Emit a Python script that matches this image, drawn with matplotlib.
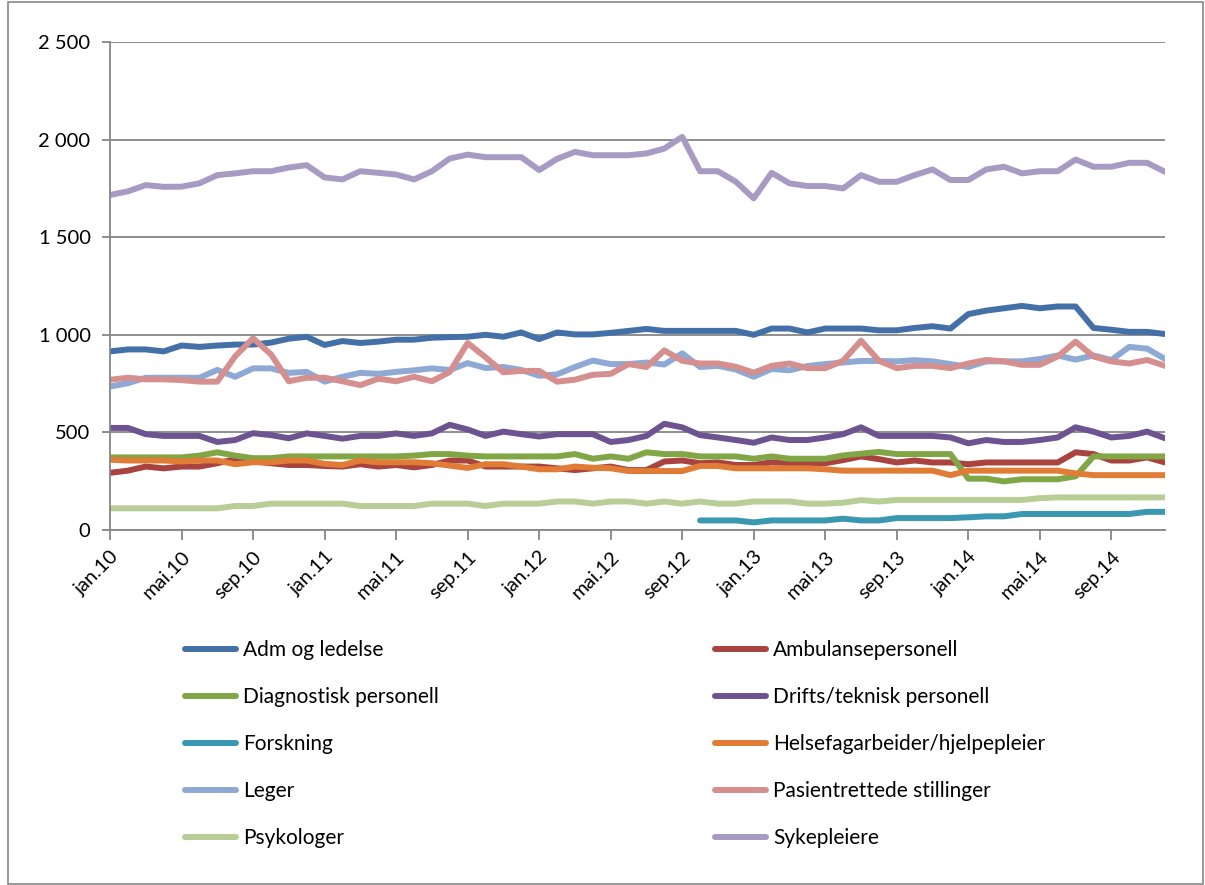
import matplotlib
matplotlib.use('Agg')
import matplotlib.pyplot as plt
from matplotlib.ticker import FuncFormatter
from matplotlib.patches import Rectangle

plt.rcParams['font.family'] = ['Lato', 'DejaVu Sans']

# Månedlige årsverk per stillingsgruppe, jan.10 - des.14
tick_labels = ["jan.10", "mai.10", "sep.10", "jan.11", "mai.11", "sep.11", "jan.12", "mai.12",
               "sep.12", "jan.13", "mai.13", "sep.13", "jan.14", "mai.14", "sep.14"]

adm = [915, 925, 925, 915, 945, 938, 945, 950, 950, 960, 980, 990,
       948, 968, 958, 965, 975, 975, 985, 988, 990, 1000, 990, 1012,
       978, 1012, 1002, 1002, 1010, 1020, 1030, 1020, 1020, 1020, 1020, 1020,
       1000, 1032, 1032, 1012, 1032, 1032, 1032, 1023, 1023, 1035, 1044, 1032,
       1106, 1124, 1136, 1148, 1136, 1145, 1145, 1035, 1026, 1015, 1015, 1004]
ambulanse = [293, 304, 325, 316, 325, 325, 342, 363, 351, 342, 333, 333,
             328, 325, 337, 325, 333, 321, 333, 356, 356, 325, 325, 325,
             325, 316, 307, 316, 325, 307, 307, 351, 356, 342, 346, 333,
             333, 347, 342, 342, 342, 358, 377, 363, 346, 356, 346, 346,
             337, 346, 346, 346, 346, 346, 398, 389, 356, 356, 372, 346]
diagnostisk = [372, 372, 372, 372, 372, 381, 398, 381, 368, 368, 377, 377,
               377, 377, 377, 377, 377, 381, 389, 389, 381, 377, 377, 377,
               377, 377, 389, 365, 377, 365, 398, 389, 389, 377, 377, 377,
               365, 377, 365, 365, 365, 382, 391, 400, 389, 389, 389, 389,
               263, 263, 249, 260, 260, 260, 275, 377, 377, 377, 377, 377]
drifts = [523, 523, 491, 482, 482, 482, 451, 461, 496, 486, 470, 495,
          482, 468, 482, 482, 495, 482, 495, 539, 515, 482, 504, 491,
          479, 491, 491, 491, 451, 461, 482, 544, 526, 486, 474, 461,
          447, 474, 461, 461, 474, 491, 526, 482, 482, 482, 482, 474,
          444, 461, 451, 451, 461, 474, 526, 504, 474, 482, 504, 470]
# Forskning er registrert fra okt.12 (måned nr. 33)
forskning_start = 33
forskning = [49, 49, 49, 39, 49, 49, 49, 49, 58, 49, 49, 61, 61, 61,
             61, 65, 70, 70, 82, 82, 82, 82, 82, 82, 82, 93, 93]
helsefag = [360, 356, 356, 356, 351, 356, 356, 337, 347, 347, 356, 356,
            339, 333, 356, 347, 347, 347, 342, 330, 318, 337, 337, 325,
            311, 311, 325, 319, 316, 302, 302, 302, 302, 328, 328, 316,
            316, 316, 316, 316, 311, 304, 304, 304, 304, 304, 304, 281,
            304, 304, 304, 304, 304, 304, 290, 281, 281, 281, 281, 281]
leger = [735, 752, 780, 780, 780, 780, 820, 785, 828, 828, 805, 810,
         760, 785, 805, 800, 810, 818, 828, 820, 855, 830, 835, 820,
         790, 797, 835, 868, 850, 850, 858, 848, 905, 835, 841, 822,
         785, 825, 818, 840, 850, 858, 866, 866, 864, 870, 864, 850,
         835, 864, 864, 864, 876, 894, 873, 894, 871, 938, 929, 876]
pasient = [770, 780, 772, 772, 768, 760, 760, 890, 982, 900, 762, 780,
           780, 762, 742, 775, 762, 785, 762, 810, 958, 885, 808, 815,
           815, 760, 770, 795, 800, 850, 835, 920, 867, 853, 853, 836,
           806, 841, 853, 829, 829, 867, 970, 867, 829, 841, 841, 829,
           853, 871, 864, 846, 846, 889, 965, 889, 864, 853, 871, 841]
psykologer = [111, 111, 111, 111, 111, 111, 111, 123, 123, 135, 135, 135,
              135, 135, 123, 123, 123, 123, 135, 135, 135, 123, 135, 135,
              135, 146, 146, 135, 146, 146, 135, 146, 135, 146, 135, 135,
              146, 146, 146, 135, 135, 140, 153, 146, 154, 154, 154, 154,
              154, 154, 154, 154, 163, 167, 167, 167, 167, 167, 167, 167]
sykepleiere = [1716, 1735, 1767, 1758, 1759, 1776, 1818, 1827, 1838, 1838, 1857, 1869,
               1806, 1796, 1838, 1830, 1821, 1796, 1838, 1903, 1923, 1910, 1910, 1910,
               1844, 1901, 1937, 1920, 1920, 1920, 1929, 1954, 2014, 1838, 1838, 1784,
               1699, 1830, 1776, 1762, 1762, 1750, 1818, 1784, 1784, 1818, 1847, 1793,
               1793, 1847, 1861, 1827, 1838, 1838, 1898, 1861, 1861, 1881, 1881, 1835]

series = [
    ("Adm og ledelse", adm, "#4470A8"),
    ("Ambulansepersonell", ambulanse, "#A84340"),
    ("Diagnostisk personell", diagnostisk, "#80A646"),
    ("Drifts/teknisk personell", drifts, "#6D5491"),
    ("Forskning", forskning, "#3A98B1"),
    ("Helsefagarbeider/hjelpepleier", helsefag, "#E07C35"),
    ("Leger", leger, "#8EA9D3"),
    ("Pasientrettede stillinger", pasient, "#D48F8E"),
    ("Psykologer", psykologer, "#B8CE96"),
    ("Sykepleiere", sykepleiere, "#A89BC3"),
]

grey = "#868686"

fig = plt.figure(figsize=(12.05, 8.85), dpi=100)
ax = fig.add_axes([110 / 1205, 1 - 530 / 885, 1055 / 1205, 488 / 885])

handles = []
for name, values, color in series:
    start = forskning_start if values is forskning else 0
    x = range(start, start + len(values))
    h, = ax.plot(x, values, color=color, lw=4.3, solid_joinstyle='round',
                 solid_capstyle='round', label=name)
    handles.append(h)

ax.set_xlim(0, len(adm) - 1)
ax.set_ylim(0, 2500)
ax.set_yticks(range(0, 2501, 500))
ax.yaxis.set_major_formatter(FuncFormatter(lambda v, p: f"{v:,.0f}".replace(",", " ")))
ax.set_xticks(range(0, len(adm), 4))
ax.set_xticklabels(tick_labels, rotation=45, ha='right', rotation_mode='anchor')

ax.grid(axis='y', color=grey, lw=1.3)
ax.set_axisbelow(True)
for s in ("top", "right"):
    ax.spines[s].set_visible(False)
for s in ("left", "bottom"):
    ax.spines[s].set_color(grey)
    ax.spines[s].set_linewidth(1.3)
ax.tick_params(axis='x', length=7, width=1.3, color=grey, labelsize=14.5, pad=6)
ax.tick_params(axis='y', length=6, width=1.3, color=grey, labelsize=14.5, pad=8)

# legenden i to kolonner, fylt radvis
leg_kw = dict(frameon=False, fontsize=15, handlelength=2.45, handletextpad=0.33,
              labelspacing=1.3, borderpad=0, borderaxespad=0, loc='upper left')
fig.legend(handles=handles[0::2], bbox_to_anchor=(185 / 1205, 1 - 640 / 885), **leg_kw)
fig.legend(handles=handles[1::2], bbox_to_anchor=(715 / 1205, 1 - 640 / 885), **leg_kw)

fig.patches.append(Rectangle((8 / 1205, 1 / 885), 1195 / 1205, 882 / 885, transform=fig.transFigure,
                             fill=False, edgecolor=grey, lw=1.2))

plt.savefig("out.png")
